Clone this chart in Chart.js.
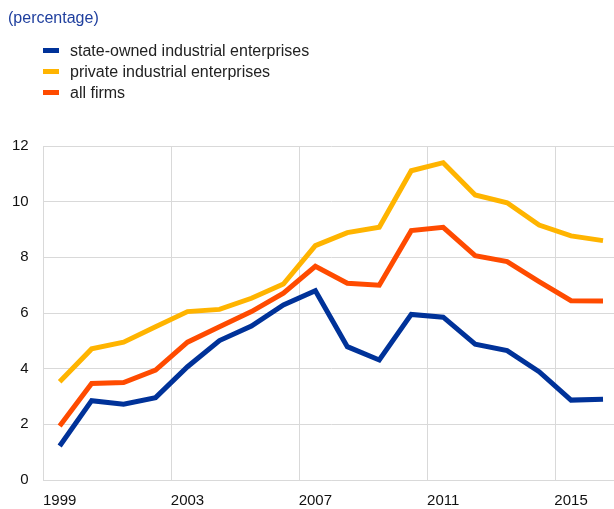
<!DOCTYPE html>
<html>
<head>
<meta charset="utf-8">
<script src="https://cdn.jsdelivr.net/npm/chart.js@4.4.1/dist/chart.umd.min.js"></script>
<style>
  html, body { margin: 0; padding: 0; background: #fff; overflow: hidden; width: 614px; height: 509px; }
  #wrap { position: absolute; left: 0; top: 0; width: 619px; height: 509px; }
  #title { position: absolute; left: 8px; top: 9px; font: 16px "Liberation Sans", Arial, sans-serif; color: #1f3f9e; }
  #legend { position: absolute; left: 43px; top: 40px; font: 16px "Liberation Sans", Arial, sans-serif; color: #222; }
  .item { height: 21px; line-height: 21px; white-space: nowrap; }
  .sw { display: inline-block; width: 16px; height: 5px; vertical-align: middle; margin-right: 11px; position: relative; top: -1px; }
</style>
</head>
<body>
<div id="wrap"><canvas id="c" width="619" height="509"></canvas></div>
<div id="title">(percentage)</div>
<div id="legend"></div>
<script>
const years = ['1999','2000','2001','2002','2003','2004','2005','2006','2007','2008','2009','2010','2011','2012','2013','2014','2015','2016'];
const stateOwned = [1.22, 2.85, 2.72, 2.96, 4.07, 5.01, 5.53, 6.29, 6.80, 4.79, 4.31, 5.95, 5.85, 4.88, 4.65, 3.89, 2.87, 2.90];
const privateEnt = [3.53, 4.71, 4.95, 5.51, 6.05, 6.13, 6.53, 7.04, 8.42, 8.89, 9.08, 11.11, 11.40, 10.24, 9.96, 9.16, 8.77, 8.60];
const allFirms   = [1.94, 3.47, 3.50, 3.95, 4.95, 5.51, 6.05, 6.71, 7.68, 7.07, 7.00, 8.96, 9.08, 8.06, 7.85, 7.13, 6.44, 6.43];
const seriesNames = ['state-owned industrial enterprises', 'private industrial enterprises', 'all firms'];
const colors = ['#003299', '#ffb400', '#ff4b00'];
const yTicks = [0, 2, 4, 6, 8, 10, 12];

const values = [stateOwned, privateEnt, allFirms];
const leg = document.getElementById('legend');
seriesNames.forEach((n, i) => {
  const d = document.createElement('div');
  d.className = 'item';
  d.innerHTML = '<span class="sw" style="background:' + colors[i] + '"></span>' + n;
  leg.appendChild(d);
});

const font = { family: '"Liberation Sans", Arial, sans-serif', size: 15 };
const order = [1, 2, 0];
new Chart(document.getElementById('c'), {
  type: 'line',
  data: {
    labels: years,
    datasets: order.map(i => ({
      label: seriesNames[i],
      data: values[i],
      borderColor: colors[i],
      backgroundColor: colors[i],
      borderWidth: 5,
      pointRadius: 0,
      tension: 0,
      fill: false
    }))
  },
  options: {
    responsive: false,
    animation: false,
    layout: { padding: { left: -3, right: 0, top: 146, bottom: -13 } },
    plugins: { legend: { display: false }, title: { display: false }, tooltip: { enabled: false } },
    scales: {
      x: {
        type: 'category',
        offset: true,
        grid: {
          offset: true,
          drawTicks: false,
          color: ctx => (ctx.index % 4 === 0 ? '#d9d9d9' : 'rgba(0,0,0,0)'),
          lineWidth: 1
        },
        border: { display: true, color: '#d9d9d9' },
        ticks: {
          autoSkip: false,
          maxRotation: 0,
          padding: 12,
          color: '#111',
          font: font,
          callback: function(v, i) { return i % 4 === 0 ? years[i] : ''; }
        }
      },
      y: {
        min: 0,
        max: 12,
        afterBuildTicks: axis => { axis.ticks = yTicks.map(v => ({ value: v })); },
        grid: { drawTicks: false, color: '#d9d9d9', lineWidth: 1 },
        border: { display: true, color: '#d9d9d9' },
        ticks: { padding: 15, color: '#111', font: font }
      }
    }
  }
});
</script>
</body>
</html>
